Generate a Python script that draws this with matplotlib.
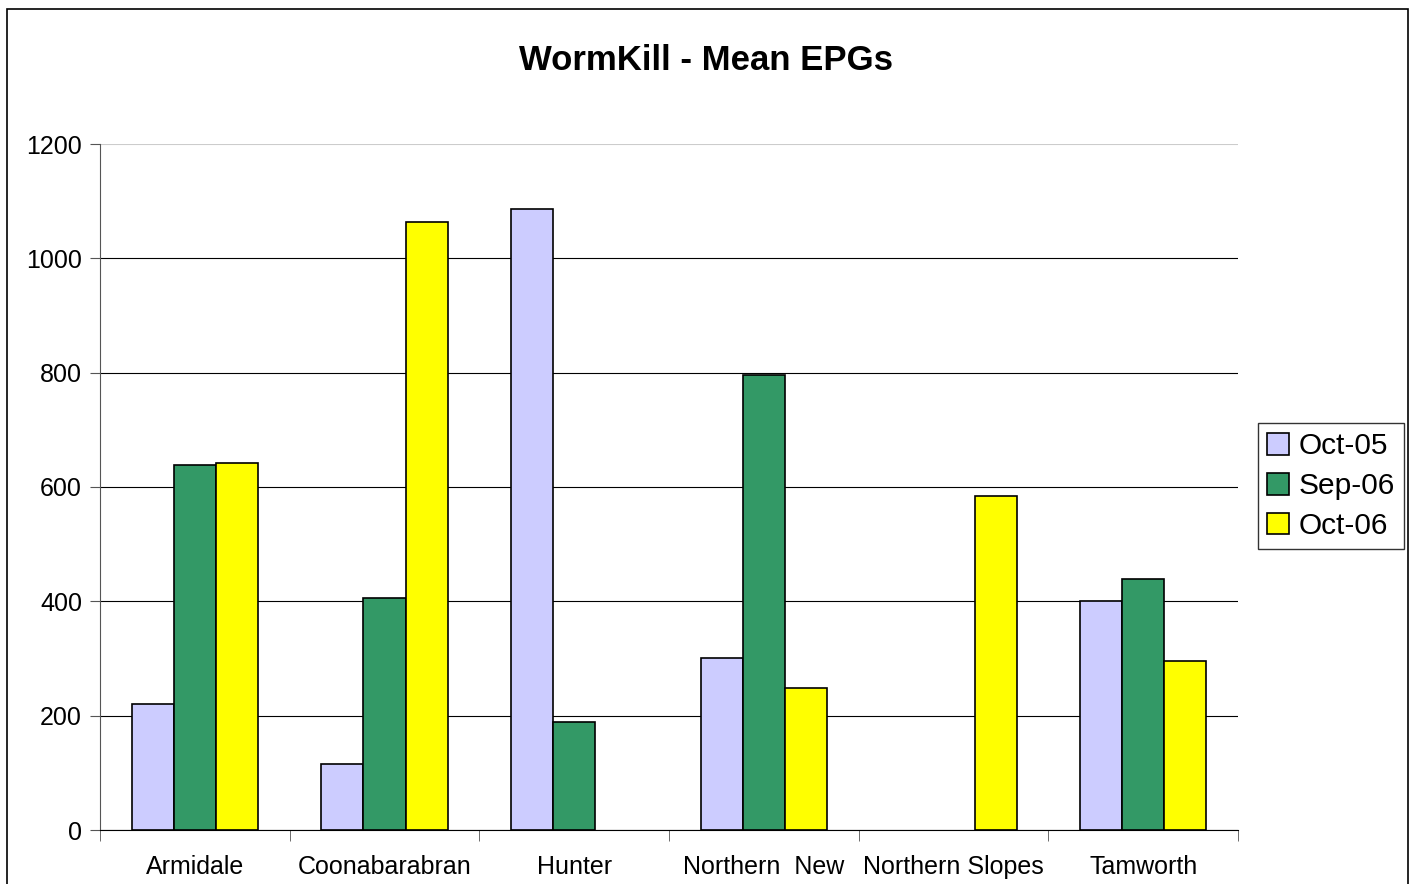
import numpy as np
import matplotlib.pyplot as plt
from matplotlib.patches import Rectangle

plt.rcParams['font.family'] = ['Liberation Sans', 'DejaVu Sans']

categories = ['Armidale', 'Coonabarabran', 'Hunter', 'Northern  New', 'Northern Slopes', 'Tamworth']
series = ['Oct-05', 'Sep-06', 'Oct-06']
oct05 = [220, 115, 1086, 301, 0, 400]
sep06 = [638, 406, 189, 796, 0, 439]
oct06 = [642, 1063, 0, 248, 584, 296]
colors = ['#CCCCFF', '#339966', '#FFFF00']

fig = plt.figure(figsize=(14.12, 8.84), dpi=100)
# outer chart border
fig.patches.append(Rectangle((7/1412, -0.01), 1401/1412, 1 - 9/884 + 0.01,
                             transform=fig.transFigure, fill=False,
                             edgecolor='black', linewidth=1.2))

ax = fig.add_axes([100/1412, 1 - 830/884, 1138/1412, 686/884])

x = np.arange(len(categories))
w = 0.222
for i, (vals, c, lab) in enumerate(zip([oct05, sep06, oct06], colors, series)):
    v = np.array(vals, dtype=float)
    v[v == 0] = np.nan
    ax.bar(x + (i - 1) * w, v, w, color=c, edgecolor='black', linewidth=1.2, label=lab, zorder=3)

ax.set_xlim(-0.5, len(categories) - 0.5)
ax.set_ylim(0, 1200)
ax.set_yticks(range(0, 1201, 200))
ax.grid(axis='y', color='black', linewidth=0.8, zorder=0)
ax.get_ygridlines()[-1].set_color('#cccccc')
ax.set_xticks(x)
ax.set_xticklabels(categories, fontsize=18)
ax.tick_params(axis='x', length=0, pad=18)
ax.set_xticks(np.arange(-0.5, len(categories)), minor=True)
ax.tick_params(axis='x', which='minor', length=8, color='#555555')
ax.tick_params(axis='y', labelsize=18, length=7, color='#555555', pad=6)
for s in ['top', 'right']:
    ax.spines[s].set_visible(False)
ax.spines['left'].set_color('#555555')
ax.spines['bottom'].set_color('black')
ax.spines['bottom'].set_zorder(4)

fig.text(706/1412, 1 - 61/884, 'WormKill - Mean EPGs', ha='center', va='center',
         fontsize=25, fontweight='bold')

leg = ax.legend(loc='center left', bbox_to_anchor=(1258/1412, 1 - 486/884),
                bbox_transform=fig.transFigure, fontsize=21.5, frameon=True,
                fancybox=False, edgecolor='black', handlelength=0.75,
                handleheight=0.75, handletextpad=0.3, borderpad=0.3,
                labelspacing=0.4, borderaxespad=0)
leg.get_frame().set_linewidth(1.0)

fig.savefig('out.png', dpi=100)
